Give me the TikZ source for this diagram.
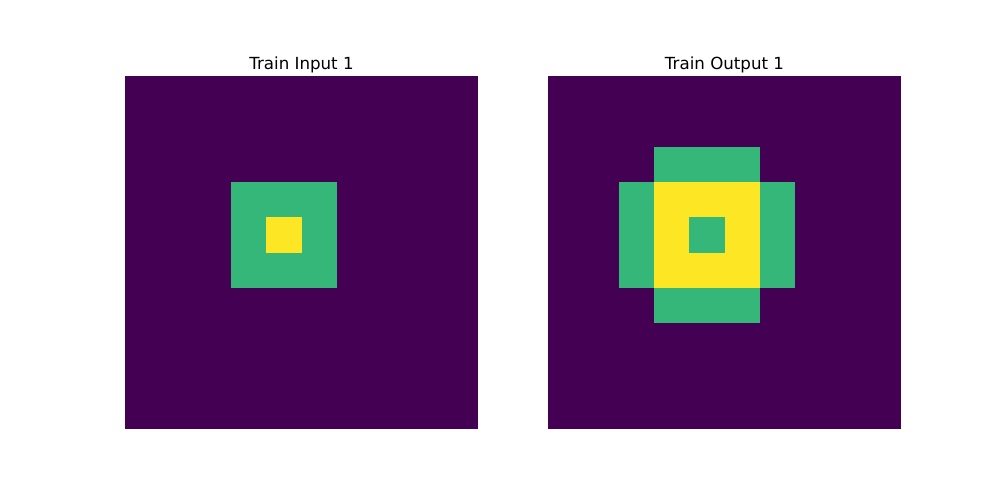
\documentclass[tikz,border=0pt]{standalone}
\usepackage{fontspec}
\setmainfont{DejaVu Sans}
\definecolor{vpurple}{HTML}{440154}
\definecolor{vgreen}{HTML}{35B779}
\definecolor{vyellow}{HTML}{FDE725}
\tikzset{
  ttl/.style={anchor=base, font=\fontsize{12pt}{14pt}\selectfont, inner sep=0pt},
}
\begin{document}
\begin{tikzpicture}[x=0.72pt,y=-0.72pt]
\useasboundingbox (0,0) rectangle (1000,500);
\def\cs{35.3}
% left grid
\begin{scope}[shift={(125,76)}]
  \fill[vpurple] (0,0) rectangle (10*\cs,10*\cs);
  \fill[vgreen] (3*\cs,3*\cs) rectangle (6*\cs,6*\cs);
  \fill[vyellow] (4*\cs,4*\cs) rectangle (5*\cs,5*\cs);
\end{scope}
% right grid
\begin{scope}[shift={(548,76)}]
  \fill[vpurple] (0,0) rectangle (10*\cs,10*\cs);
  \fill[vgreen] (3*\cs,2*\cs) rectangle (6*\cs,7*\cs);
  \fill[vgreen] (2*\cs,3*\cs) rectangle (7*\cs,6*\cs);
  \fill[vyellow] (3*\cs,3*\cs) rectangle (6*\cs,6*\cs);
  \fill[vgreen] (4*\cs,4*\cs) rectangle (5*\cs,5*\cs);
\end{scope}
\node[ttl] (t1) at (301.5,69) {Train Input 1};
\node[ttl] (t2) at (724.5,69) {Train Output 1};
\end{tikzpicture}
\end{document}
